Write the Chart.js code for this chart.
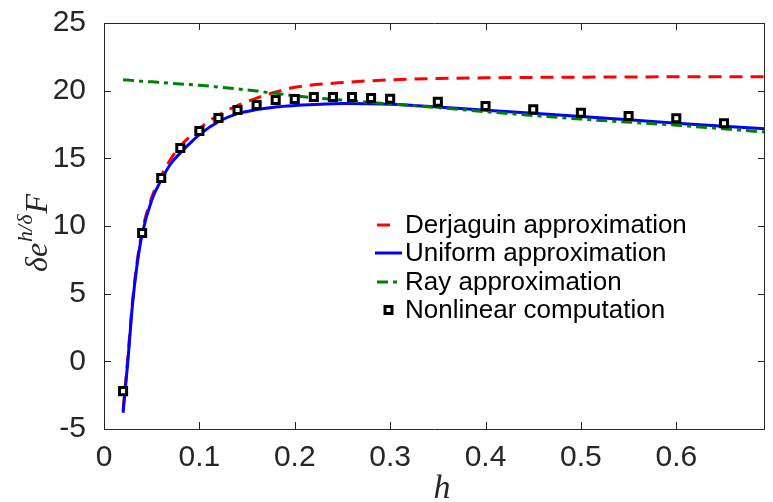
<!DOCTYPE html>
<html>
<head>
<meta charset="utf-8">
<script src="https://cdn.jsdelivr.net/npm/chart.js@4"></script>
<style>
  html, body { margin: 0; padding: 0; background: #fff; overflow: hidden; }
  #wrap { width: 773px; height: 502px; overflow: hidden; }
</style>
</head>
<body>
<div id="wrap"><canvas id="forceChart" width="773" height="502"></canvas></div>
<script>
// curve samples (h) and the three approximations
var hCurve    = [0.02, 0.025, 0.03, 0.035, 0.04, 0.05, 0.06, 0.07, 0.08, 0.09, 0.1, 0.12, 0.14, 0.16, 0.18, 0.2, 0.25, 0.3, 0.35, 0.4, 0.5, 0.6, 0.7];
var derjaguin = [-3.6, 0.3, 4.5, 7.5, 9.6, 12.1, 13.7, 14.95, 15.9, 16.6, 17.2, 18.2, 18.9, 19.45, 19.9, 20.25, 20.6, 20.8, 20.9, 20.95, 21.0, 21.02, 21.02];
var uniform   = [-3.8, 0.0, 4.3, 7.3, 9.4, 11.9, 13.4, 14.6, 15.4, 16.1, 16.75, 17.7, 18.3, 18.6, 18.8, 18.9, 19.05, 19.0, 18.8, 18.55, 18.1, 17.6, 17.15];
var ray       = [20.8, 20.78, 20.75, 20.72, 20.69, 20.65, 20.6, 20.55, 20.5, 20.45, 20.4, 20.27, 20.13, 19.97, 19.8, 19.62, 19.3, 19.02, 18.75, 18.45, 17.9, 17.45, 16.9];

// nonlinear computation points
var hNonlinear = [0.02, 0.04, 0.06, 0.08, 0.1, 0.12, 0.14, 0.16, 0.18, 0.2, 0.22, 0.24, 0.26, 0.28, 0.3, 0.35, 0.4, 0.45, 0.5, 0.55, 0.6, 0.65];
var nonlinear  = [-2.2, 9.48, 13.55, 15.76, 17.02, 17.98, 18.57, 18.94, 19.31, 19.38, 19.53, 19.53, 19.53, 19.46, 19.4, 19.18, 18.87, 18.62, 18.37, 18.13, 17.96, 17.59];

var xTicks = [0, 0.1, 0.2, 0.3, 0.4, 0.5, 0.6];
var yTicks = [-5, 0, 5, 10, 15, 20, 25];
var legendLabels = ['Derjaguin approximation', 'Uniform approximation', 'Ray approximation', 'Nonlinear computation'];

function toPoints(xs, ys) {
    return xs.map(function (x, i) { return { x: x, y: ys[i] }; });
}

var axisColor = '#262626';
var tickFont = { family: 'Liberation Sans, Arial, Helvetica', size: 30 };

// box round the plot with inward ticks on all four sides
var boxPlugin = {
    id: 'box',
    afterDraw: function (chart) {
        var ctx = chart.ctx, a = chart.chartArea;
        var xs = chart.scales.x, ys = chart.scales.y;
        ctx.save();
        ctx.strokeStyle = axisColor;
        ctx.lineWidth = 1;
        ctx.beginPath();
        ctx.rect(a.left + 0.5, a.top + 0.5, a.right - a.left - 1, a.bottom - a.top);
        xTicks.forEach(function (t) {
            var px = Math.round(xs.getPixelForValue(t)) + 0.5;
            ctx.moveTo(px, a.bottom); ctx.lineTo(px, a.bottom - 7);
            ctx.moveTo(px, a.top); ctx.lineTo(px, a.top + 7);
        });
        yTicks.forEach(function (t) {
            var py = Math.round(ys.getPixelForValue(t)) + 0.5;
            ctx.moveTo(a.left, py); ctx.lineTo(a.left + 7, py);
            ctx.moveTo(a.right, py); ctx.lineTo(a.right - 7, py);
        });
        ctx.stroke();
        ctx.restore();
    }
};

// axis titles: h and delta e^{h/delta} F
var titlePlugin = {
    id: 'titles',
    afterDraw: function (chart) {
        var ctx = chart.ctx;
        ctx.save();
        ctx.fillStyle = axisColor;
        ctx.textBaseline = 'alphabetic';
        ctx.font = 'italic 34px "Liberation Serif", "DejaVu Serif", serif';
        ctx.textAlign = 'center';
        ctx.fillText('h', 442, 498);

        var big = 'italic 32px "Liberation Serif", "DejaVu Serif", serif';
        var small = 'italic 22px "Liberation Serif", "DejaVu Serif", serif';
        ctx.font = big; var w1 = ctx.measureText('\u03b4e').width;
        ctx.font = small; var w2 = ctx.measureText('h/\u03b4').width;
        ctx.font = big; var w3 = ctx.measureText('F').width;
        var total = w1 + w2 + 2 + w3;
        ctx.translate(47, 233);
        ctx.rotate(-Math.PI / 2);
        ctx.textAlign = 'left';
        var x0 = -total / 2;
        ctx.font = big; ctx.fillText('\u03b4e', x0, 0);
        ctx.font = small; ctx.fillText('h/\u03b4', x0 + w1 + 1, -15);
        ctx.font = big; ctx.fillText('F', x0 + w1 + w2 + 2, 0);
        ctx.restore();
    }
};

// legend inside the plot, no frame
var legendPlugin = {
    id: 'innerLegend',
    afterDatasetsDraw: function (chart) {
        var ctx = chart.ctx;
        var rows = [225, 253, 282, 310];
        ctx.save();
        ctx.font = '26px "Liberation Sans", Arial, Helvetica';
        ctx.fillStyle = '#000';
        ctx.textBaseline = 'middle';
        ctx.textAlign = 'left';
        legendLabels.forEach(function (label, i) {
            var ds = chart.data.datasets[i];
            var y = rows[i];
            if (ds.showLine === false) {
                ctx.lineWidth = 3;
                ctx.strokeStyle = '#000';
                ctx.fillStyle = '#fff';
                ctx.fillRect(385, y - 3.5, 7, 7);
                ctx.strokeRect(385, y - 3.5, 7, 7);
            } else {
                ctx.beginPath();
                ctx.setLineDash(ds.borderDash || []);
                ctx.lineWidth = ds.borderWidth;
                ctx.strokeStyle = ds.borderColor;
                ctx.moveTo(i === 1 ? 375 : 377, y);
                ctx.lineTo(i === 0 ? 391 : 402, y);
                ctx.stroke();
                ctx.setLineDash([]);
            }
            ctx.fillStyle = '#000';
            ctx.fillText(label, 405, y + 1);
        });
        ctx.restore();
    }
};

var ctx = document.getElementById('forceChart').getContext('2d');
var forceChart = new Chart(ctx, {
    type: 'line',
    data: {
        datasets: [{
            label: legendLabels[0],
            data: toPoints(hCurve, derjaguin),
            borderColor: '#ff0000',
            borderWidth: 3,
            borderDash: [13, 8],
            pointRadius: 0,
            cubicInterpolationMode: 'monotone',
            order: 3
        }, {
            label: legendLabels[1],
            data: toPoints(hCurve, uniform),
            borderColor: '#0000ff',
            borderWidth: 3,
            pointRadius: 0,
            cubicInterpolationMode: 'monotone',
            order: 2
        }, {
            label: legendLabels[2],
            data: toPoints(hCurve, ray),
            borderColor: '#008000',
            borderWidth: 3,
            borderDash: [11, 5, 4, 5],
            pointRadius: 0,
            cubicInterpolationMode: 'monotone',
            order: 1
        }, {
            label: legendLabels[3],
            data: toPoints(hNonlinear, nonlinear),
            showLine: false,
            pointStyle: 'rect',
            pointRadius: 5,
            pointBorderWidth: 3,
            pointBorderColor: '#000',
            pointBackgroundColor: '#fff',
            order: 0
        }]
    },
    options: {
        responsive: false,
        animation: false,
        devicePixelRatio: 1,
        layout: { padding: { top: 23, right: 1, left: 0, bottom: 0 } },
        plugins: {
            legend: { display: false },
            tooltip: { enabled: false }
        },
        scales: {
            x: {
                type: 'linear',
                min: 0,
                max: 0.693,
                grid: { display: false },
                border: { display: false },
                afterBuildTicks: function (scale) {
                    scale.ticks = xTicks.map(function (v) { return { value: v }; });
                },
                afterFit: function (scale) {
                    scale.height = 73;
                    scale.paddingLeft = 0;
                    scale.paddingRight = 0;
                },
                ticks: {
                    font: tickFont,
                    color: axisColor,
                    padding: 3,
                    maxRotation: 0,
                    callback: function (v) { return String(v); }
                }
            },
            y: {
                type: 'linear',
                min: -5,
                max: 25,
                grid: { display: false },
                border: { display: false },
                afterBuildTicks: function (scale) {
                    scale.ticks = yTicks.map(function (v) { return { value: v }; });
                },
                afterFit: function (scale) {
                    scale.width = 104;
                    scale.paddingTop = 0;
                    scale.paddingBottom = 0;
                },
                ticks: {
                    font: tickFont,
                    color: axisColor,
                    padding: 10,
                    callback: function (v) { return String(v); }
                }
            }
        }
    },
    plugins: [boxPlugin, titlePlugin, legendPlugin]
});

// the layout keeps a few pixels back on the right; widen the canvas so the
// plot box ends at x = 772 and let the wrapper crop the surplus
var gap = Math.round(772 - forceChart.chartArea.right);
if (gap > 0) {
    forceChart.resize(773 + gap, 502);
}
</script>
</body>
</html>
